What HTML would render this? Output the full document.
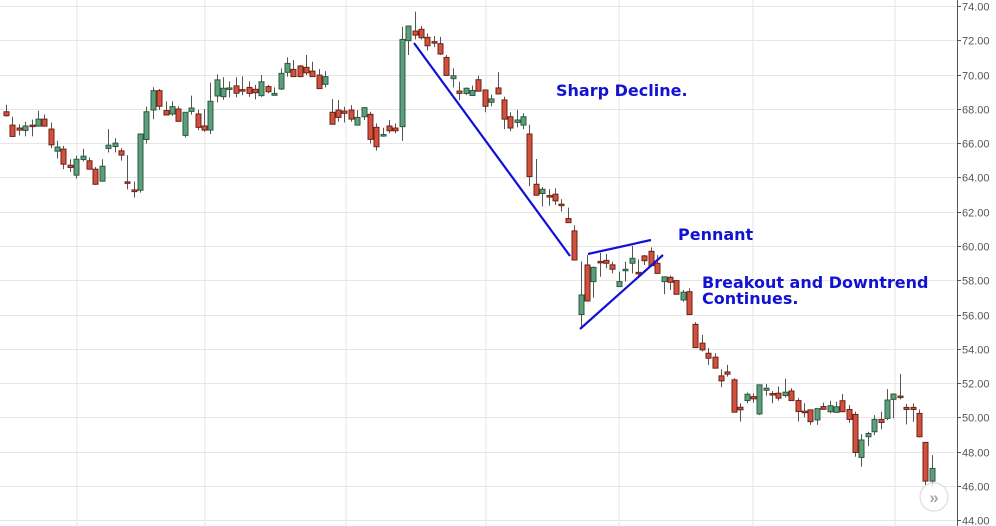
<!DOCTYPE html>
<html><head><meta charset="utf-8"><style>
html,body{margin:0;padding:0;background:#fff;}
svg{display:block;font-family:"Liberation Sans",sans-serif;}
.ann{font-family:"DejaVu Sans","Liberation Sans",sans-serif;font-weight:bold;font-size:16px;fill:#1212d4;}
</style></head><body>
<svg id="chart" width="996" height="526" viewBox="0 0 996 526">
<g id="grid"></g>
<g id="candles"></g>
<g id="axis"></g>
<g>
<line x1="414" y1="43" x2="570" y2="256" stroke="#1010d8" stroke-width="2.2"/>
<line x1="588" y1="254" x2="651" y2="240" stroke="#1010d8" stroke-width="2.2"/>
<line x1="580" y1="329" x2="663" y2="255" stroke="#1010d8" stroke-width="2.2"/>
<text class="ann" x="556" y="96">Sharp Decline.</text>
<text class="ann" x="678" y="240">Pennant</text>
<text class="ann" x="702" y="288">Breakout and Downtrend</text>
<text class="ann" x="702" y="304">Continues.</text>
</g>
<g>
<circle cx="934" cy="497" r="14" fill="#fff" fill-opacity="0.8" stroke="#ddd" stroke-width="1.2"/>
<text x="934" y="503" text-anchor="middle" font-size="17" fill="#aaa" font-weight="bold">»</text>
</g>
</svg>
<script>
const opens=[67.83,67.05,66.88,66.74,67.05,66.99,67.4,66.82,65.53,65.65,64.71,64.13,65.04,64.97,64.48,63.78,65.69,65.8,65.55,63.74,63.27,63.25,66.21,67.93,69.06,67.9,67.7,67.99,66.45,67.85,67.7,67.0,66.76,68.75,68.71,69.18,69.34,69.12,69.25,69.14,68.77,69.3,68.79,69.16,70.13,70.3,70.5,70.42,70.2,69.97,69.43,67.8,67.93,67.87,67.93,67.05,67.54,67.68,66.92,66.41,67.0,66.88,66.96,71.98,72.54,72.64,72.17,71.92,71.8,71.0,69.76,69.04,68.9,68.78,69.7,69.1,68.38,69.22,68.52,67.54,67.21,67.05,66.53,63.6,63.06,62.94,63.02,62.44,61.6,60.88,56.0,58.89,57.92,59.1,59.16,58.9,57.63,58.6,58.99,58.46,59.42,59.69,58.99,57.92,58.17,57.98,56.85,57.33,55.43,54.33,53.74,53.51,52.42,52.65,52.19,50.59,50.98,51.21,50.2,51.58,51.39,51.41,51.27,51.54,50.98,50.36,50.44,49.85,50.63,50.33,50.29,50.97,50.46,50.17,47.66,48.87,49.16,49.88,49.94,51.05,51.24,50.58,50.58,50.23,48.54,46.28];
const highs=[68.24,67.54,67.1,67.25,67.37,67.89,67.66,67.2,66.14,65.84,65.06,65.26,65.67,65.16,64.61,65.06,66.82,66.29,65.7,65.3,63.76,66.57,68.13,69.26,69.16,68.44,68.44,68.15,67.8,68.77,67.95,67.99,69.53,70.0,69.84,69.6,69.84,69.9,69.6,69.4,69.97,69.4,69.25,70.36,71.0,70.85,70.56,71.14,70.75,70.32,70.2,68.57,68.51,68.12,68.22,67.93,68.09,67.83,67.15,66.9,67.35,67.15,72.8,72.83,73.67,72.83,72.4,72.25,72.2,71.14,70.36,69.58,69.25,69.36,69.94,69.1,68.83,70.14,68.71,67.8,67.95,67.74,67.08,65.07,63.45,63.31,63.37,62.73,62.24,61.2,59.09,59.47,58.8,59.6,59.53,59.08,58.5,59.08,60.0,59.22,59.47,59.92,59.47,58.2,58.27,57.98,57.43,57.53,55.55,54.81,54.04,53.74,52.81,53.06,52.28,50.82,51.45,51.4,51.9,51.95,51.54,51.8,52.25,51.7,51.12,50.82,50.44,50.51,50.86,50.97,50.91,51.36,50.72,50.33,49.02,49.16,50.13,50.33,51.65,51.4,52.53,50.78,50.81,50.46,48.54,47.8];
const lows=[67.54,66.39,66.45,66.39,66.39,66.99,66.99,65.71,65.1,64.48,64.32,63.93,64.93,64.48,63.56,63.78,65.45,65.45,64.98,63.3,62.82,63.11,65.98,67.4,67.93,67.64,67.6,67.27,66.33,67.66,66.76,66.66,66.53,68.38,68.52,68.67,68.67,68.8,68.7,68.55,68.7,68.9,68.79,69.1,69.88,69.88,69.84,69.97,69.88,69.18,69.25,67.1,67.25,67.2,67.25,67.05,67.35,65.98,65.56,66.37,66.57,66.57,66.14,71.14,72.05,72.05,71.4,71.6,71.14,69.95,69.25,68.5,68.8,68.74,69.03,67.8,68.15,68.87,66.82,66.69,66.92,66.82,63.5,62.96,62.3,62.34,62.39,62.0,61.36,59.18,55.2,56.79,56.98,58.2,58.7,58.4,57.63,57.92,58.4,58.2,58.89,58.8,58.4,57.18,57.43,57.18,56.75,56.0,54.07,53.84,53.06,52.87,51.76,52.38,50.3,49.75,50.82,50.86,50.14,51.27,50.82,50.98,51.16,50.98,49.75,50.0,49.56,49.56,50.44,50.23,50.29,50.33,49.68,47.7,47.12,48.32,48.96,49.31,49.84,49.94,51.05,49.59,49.74,48.83,45.95,45.95];
const closes=[67.6,66.39,66.76,67.0,66.99,67.4,66.99,65.9,65.77,64.77,64.58,65.06,65.24,64.48,63.6,64.65,65.88,66.0,65.3,63.72,63.17,66.53,67.83,69.06,68.15,67.64,68.13,67.27,67.8,68.05,66.92,66.76,68.44,69.69,69.2,69.22,68.91,69.08,68.9,68.94,69.58,69.0,68.9,70.07,70.65,69.88,69.88,70.1,69.88,69.18,69.88,67.1,67.5,67.74,67.4,67.5,68.07,66.22,65.79,66.5,66.72,66.72,72.05,72.83,72.3,72.15,71.68,71.88,71.2,69.95,69.93,68.9,69.2,69.07,69.03,68.15,68.58,68.87,67.4,66.88,67.35,67.54,64.05,62.96,63.31,62.9,62.63,62.38,61.36,59.18,57.14,56.79,58.75,59.05,58.99,58.64,57.92,58.64,59.28,58.39,59.14,58.85,58.4,58.2,57.88,57.18,57.3,56.0,54.07,53.94,53.45,52.87,52.13,52.52,50.3,50.44,51.35,51.08,51.9,51.7,51.35,51.12,51.47,50.98,50.34,50.32,49.75,50.51,50.47,50.68,50.62,50.33,49.88,47.95,48.68,49.06,49.88,49.7,51.01,51.36,51.16,50.46,50.46,48.87,46.28,47.02];
const tickValues=[74,72,70,68,66,64,62,60,58,56,54,52,50,48,46,44];
const tickLabels=["74.00","72.00","70.00","68.00","66.00","64.00","62.00","60.00","58.00","56.00","54.00","52.00","50.00","48.00","46.00","44.00"];

const NS="http://www.w3.org/2000/svg";
const AX=957;
function yScale(v){return 6+(74-v)*17.14;}
function xScale(i){return 6+i*6.384;}
function mk(tag,attrs,parent){const e=document.createElementNS(NS,tag);for(const k in attrs)e.setAttribute(k,attrs[k]);parent.appendChild(e);return e;}

const grid=document.getElementById('grid');
[77,205,346,486,619,753,895].forEach(x=>{
  const l=mk('line',{x1:x,y1:0,x2:x,y2:526,stroke:'#e6e6e6','stroke-width':1},grid);
  
  
});
const axis=document.getElementById('axis');
tickValues.forEach((v,i)=>{
  const y=Math.round(yScale(v))+0.5;
  const g=mk('line',{x1:0,y1:y,x2:AX,y2:y,stroke:'#e6e6e6','stroke-width':1},grid);
  
  
  const t=mk('line',{x1:AX,y1:y,x2:AX+4,y2:y,stroke:'#555','stroke-width':1},axis);
  
  
  const lab=mk('text',{x:AX+5,y:y+4,'font-size':11,fill:'#555'},axis);
  lab.textContent=tickLabels[i];
  
  
});
const al=mk('line',{x1:AX+0.5,y1:0,x2:AX+0.5,y2:526,stroke:'#555','stroke-width':1},axis);



const cg=document.getElementById('candles');
for(let i=0;i<opens.length;i++){
  const x=Math.round(xScale(i));
  const up=closes[i]>=opens[i];
  const g=mk('g',{},cg);
  
  
  mk('line',{x1:x+0.5,y1:yScale(highs[i]),x2:x+0.5,y2:yScale(lows[i]),stroke:'#555','stroke-width':1},g);
  const top=yScale(Math.max(opens[i],closes[i]));
  let h=yScale(Math.min(opens[i],closes[i]))-top;
  if(h<1.5)h=1.5;
  mk('rect',{x:x-2,y:top,width:5,height:h,fill:up?'#5c9f7c':'#d3503f',stroke:up?'#2b5a3e':'#6e2116','stroke-width':1},g);
}
</script>
</body></html>
